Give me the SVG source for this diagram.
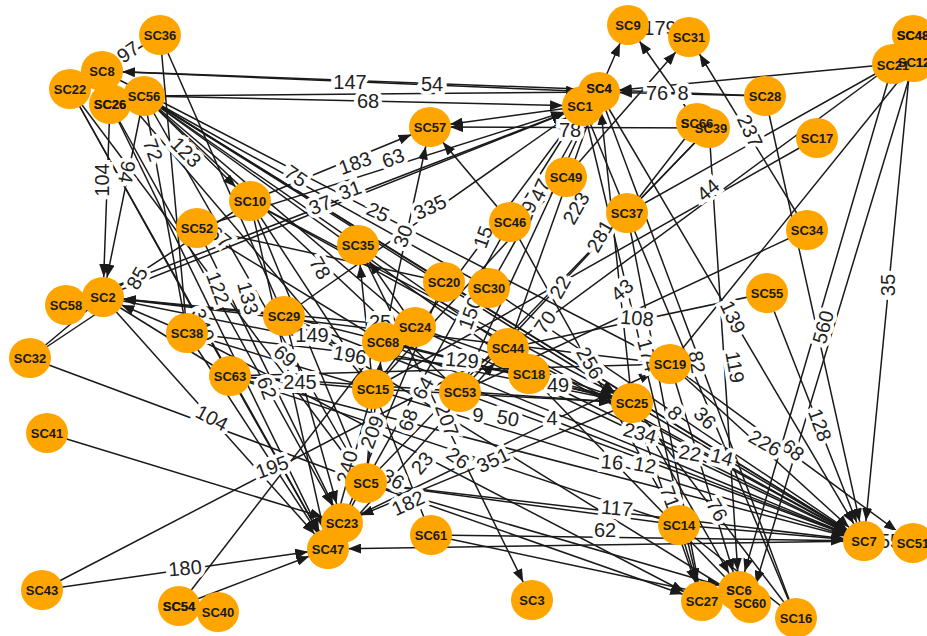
<svg xmlns="http://www.w3.org/2000/svg" xmlns:xlink="http://www.w3.org/1999/xlink" width="927" height="636" viewBox="0 0 927 636">
<style>
.bg{fill:#ffffff}
line{stroke:#1a1a1a;stroke-width:1.5;fill:none}
line.a{marker-end:url(#arr)}
.lb{font-family:"Liberation Sans",Arial,sans-serif;font-size:20px;fill:#222;stroke:#fff;stroke-width:8px;stroke-linejoin:miter;paint-order:stroke;text-anchor:middle;dominant-baseline:central}
.node ellipse{fill:#FFA500;stroke:none}
.node text{font-family:"Liberation Sans",Arial,sans-serif;font-size:13px;font-weight:bold;fill:#1a1a1a;text-anchor:middle;dominant-baseline:central}
</style>
<defs>
<marker id="arr" markerUnits="userSpaceOnUse" markerWidth="13" markerHeight="10" refX="33" refY="5" orient="auto">
<path d="M0,0 L13,5 L0,10 z" fill="#1a1a1a"/>
</marker>
</defs>
<rect class="bg" x="0" y="0" width="927" height="636"/>
<g id="connectors">
<line class="a" x1="102" y1="71" x2="599" y2="92"/>
<line class="a" x1="765" y1="96" x2="102" y2="71"/>
<line class="a" x1="144" y1="96" x2="583" y2="106"/>
<line class="a" x1="144" y1="96" x2="599" y2="92"/>
<line class="a" x1="160" y1="35" x2="102" y2="71"/>
<line class="n" x1="160" y1="35" x2="284" y2="316"/>
<line class="n" x1="160" y1="35" x2="187" y2="333"/>
<line class="a" x1="144" y1="96" x2="250" y2="201"/>
<line class="a" x1="110" y1="104" x2="103" y2="297"/>
<line class="a" x1="144" y1="96" x2="103" y2="297"/>
<line class="n" x1="144" y1="96" x2="187" y2="333"/>
<line class="n" x1="70" y1="89" x2="230" y2="376"/>
<line class="a" x1="70" y1="89" x2="328" y2="549"/>
<line class="a" x1="110" y1="104" x2="328" y2="549"/>
<line class="n" x1="144" y1="96" x2="444" y2="282"/>
<line class="n" x1="144" y1="96" x2="415" y2="327"/>
<line class="n" x1="144" y1="96" x2="489" y2="288"/>
<line class="n" x1="144" y1="96" x2="508" y2="348"/>
<line class="n" x1="144" y1="96" x2="529" y2="374"/>
<line class="a" x1="144" y1="96" x2="632" y2="403"/>
<line class="n" x1="102" y1="71" x2="670" y2="364"/>
<line class="a" x1="144" y1="96" x2="864" y2="541"/>
<line class="a" x1="103" y1="297" x2="583" y2="106"/>
<line class="a" x1="66" y1="305" x2="583" y2="106"/>
<line class="a" x1="197" y1="228" x2="583" y2="106"/>
<line class="a" x1="250" y1="201" x2="430" y2="127"/>
<line class="a" x1="583" y1="106" x2="430" y2="127"/>
<line class="a" x1="709" y1="128" x2="430" y2="127"/>
<line class="a" x1="284" y1="316" x2="583" y2="106"/>
<line class="a" x1="383" y1="342" x2="430" y2="127"/>
<line class="a" x1="373" y1="389" x2="583" y2="106"/>
<line class="a" x1="489" y1="288" x2="599" y2="92"/>
<line class="a" x1="508" y1="348" x2="599" y2="92"/>
<line class="a" x1="632" y1="403" x2="599" y2="92"/>
<line class="a" x1="460" y1="392" x2="599" y2="92"/>
<line class="n" x1="103" y1="297" x2="250" y2="201"/>
<line class="a" x1="187" y1="333" x2="103" y2="297"/>
<line class="a" x1="284" y1="316" x2="103" y2="297"/>
<line class="a" x1="415" y1="327" x2="103" y2="297"/>
<line class="n" x1="103" y1="297" x2="30" y2="358"/>
<line class="n" x1="30" y1="358" x2="114" y2="302"/>
<line class="n" x1="30" y1="358" x2="366" y2="483"/>
<line class="a" x1="103" y1="297" x2="328" y2="549"/>
<line class="n" x1="103" y1="297" x2="230" y2="376"/>
<line class="a" x1="47" y1="433" x2="342" y2="523"/>
<line class="n" x1="42" y1="590" x2="508" y2="348"/>
<line class="n" x1="179" y1="606" x2="383" y2="342"/>
<line class="a" x1="42" y1="590" x2="328" y2="549"/>
<line class="a" x1="179" y1="606" x2="328" y2="549"/>
<line class="a" x1="187" y1="333" x2="328" y2="549"/>
<line class="a" x1="230" y1="376" x2="328" y2="549"/>
<line class="a" x1="284" y1="316" x2="342" y2="523"/>
<line class="a" x1="250" y1="201" x2="328" y2="549"/>
<line class="a" x1="197" y1="228" x2="342" y2="523"/>
<line class="a" x1="366" y1="483" x2="864" y2="541"/>
<line class="n" x1="366" y1="483" x2="679" y2="525"/>
<line class="a" x1="366" y1="483" x2="739" y2="591"/>
<line class="a" x1="366" y1="483" x2="702" y2="601"/>
<line class="a" x1="864" y1="541" x2="328" y2="549"/>
<line class="a" x1="431" y1="535" x2="864" y2="541"/>
<line class="a" x1="431" y1="535" x2="750" y2="603"/>
<line class="a" x1="632" y1="403" x2="342" y2="523"/>
<line class="a" x1="342" y1="523" x2="670" y2="364"/>
<line class="a" x1="358" y1="245" x2="532" y2="600"/>
<line class="a" x1="187" y1="333" x2="702" y2="601"/>
<line class="a" x1="373" y1="389" x2="328" y2="549"/>
<line class="n" x1="366" y1="483" x2="373" y2="389"/>
<line class="n" x1="373" y1="389" x2="431" y2="535"/>
<line class="a" x1="328" y1="549" x2="508" y2="348"/>
<line class="n" x1="328" y1="549" x2="510" y2="222"/>
<line class="n" x1="342" y1="523" x2="444" y2="282"/>
<line class="a" x1="893" y1="64" x2="599" y2="92"/>
<line class="a" x1="765" y1="96" x2="599" y2="92"/>
<line class="a" x1="697" y1="123" x2="628" y2="25"/>
<line class="a" x1="566" y1="177" x2="689" y2="37"/>
<line class="n" x1="628" y1="25" x2="689" y2="37"/>
<line class="a" x1="807" y1="230" x2="689" y2="37"/>
<line class="a" x1="765" y1="96" x2="864" y2="541"/>
<line class="n" x1="893" y1="64" x2="508" y2="348"/>
<line class="n" x1="807" y1="230" x2="460" y2="392"/>
<line class="n" x1="508" y1="348" x2="767" y2="293"/>
<line class="a" x1="599" y1="92" x2="864" y2="541"/>
<line class="a" x1="709" y1="128" x2="739" y2="591"/>
<line class="n" x1="599" y1="92" x2="796" y2="618"/>
<line class="a" x1="583" y1="106" x2="702" y2="601"/>
<line class="a" x1="893" y1="64" x2="739" y2="591"/>
<line class="a" x1="914" y1="62" x2="750" y2="603"/>
<line class="a" x1="913" y1="35" x2="864" y2="541"/>
<line class="a" x1="767" y1="293" x2="864" y2="541"/>
<line class="a" x1="599" y1="92" x2="628" y2="25"/>
<line class="a" x1="415" y1="327" x2="358" y2="245"/>
<line class="a" x1="373" y1="389" x2="358" y2="245"/>
<line class="a" x1="366" y1="483" x2="383" y2="342"/>
<line class="a" x1="230" y1="376" x2="632" y2="403"/>
<line class="a" x1="284" y1="316" x2="632" y2="403"/>
<line class="n" x1="187" y1="333" x2="529" y2="374"/>
<line class="a" x1="383" y1="342" x2="632" y2="403"/>
<line class="a" x1="415" y1="327" x2="632" y2="403"/>
<line class="a" x1="373" y1="389" x2="632" y2="403"/>
<line class="a" x1="250" y1="201" x2="632" y2="403"/>
<line class="a" x1="284" y1="316" x2="864" y2="541"/>
<line class="a" x1="230" y1="376" x2="864" y2="541"/>
<line class="a" x1="373" y1="389" x2="864" y2="541"/>
<line class="a" x1="415" y1="327" x2="864" y2="541"/>
<line class="a" x1="444" y1="282" x2="864" y2="541"/>
<line class="a" x1="489" y1="288" x2="864" y2="541"/>
<line class="a" x1="508" y1="348" x2="864" y2="541"/>
<line class="a" x1="529" y1="374" x2="864" y2="541"/>
<line class="a" x1="460" y1="392" x2="864" y2="541"/>
<line class="a" x1="632" y1="403" x2="864" y2="541"/>
<line class="a" x1="670" y1="364" x2="864" y2="541"/>
<line class="a" x1="250" y1="201" x2="864" y2="541"/>
<line class="a" x1="383" y1="342" x2="864" y2="541"/>
<line class="a" x1="670" y1="364" x2="739" y2="591"/>
<line class="a" x1="632" y1="403" x2="739" y2="591"/>
<line class="a" x1="529" y1="374" x2="750" y2="603"/>
<line class="a" x1="679" y1="525" x2="702" y2="601"/>
<line class="n" x1="679" y1="525" x2="796" y2="618"/>
<line class="n" x1="679" y1="525" x2="864" y2="541"/>
<line class="n" x1="864" y1="541" x2="913" y2="543"/>
<line class="a" x1="510" y1="222" x2="430" y2="127"/>
<line class="n" x1="709" y1="128" x2="627" y2="213"/>
<line class="n" x1="697" y1="123" x2="627" y2="213"/>
<line class="n" x1="893" y1="64" x2="627" y2="213"/>
<line class="n" x1="914" y1="62" x2="670" y2="364"/>
<line class="n" x1="144" y1="96" x2="460" y2="392"/>
<line class="n" x1="102" y1="71" x2="373" y2="389"/>
<line class="n" x1="70" y1="89" x2="366" y2="483"/>
<line class="n" x1="144" y1="96" x2="366" y2="483"/>
<line class="n" x1="250" y1="201" x2="366" y2="483"/>
<line class="n" x1="197" y1="228" x2="383" y2="342"/>
<line class="n" x1="187" y1="333" x2="373" y2="389"/>
<line class="n" x1="230" y1="376" x2="373" y2="389"/>
<line class="n" x1="230" y1="376" x2="670" y2="364"/>
<line class="n" x1="460" y1="392" x2="627" y2="213"/>
<line class="n" x1="366" y1="483" x2="709" y2="128"/>
<line class="n" x1="510" y1="222" x2="679" y2="525"/>
<line class="a" x1="529" y1="374" x2="632" y2="403"/>
<line class="n" x1="373" y1="389" x2="566" y2="177"/>
<line class="n" x1="627" y1="213" x2="796" y2="618"/>
<line class="n" x1="627" y1="213" x2="702" y2="601"/>
<line class="n" x1="632" y1="403" x2="796" y2="618"/>
<line class="a" x1="632" y1="403" x2="702" y2="601"/>
<line class="a" x1="670" y1="364" x2="913" y2="543"/>
<line class="n" x1="250" y1="201" x2="373" y2="389"/>
<line class="n" x1="817" y1="138" x2="373" y2="389"/>
<line class="n" x1="627" y1="213" x2="583" y2="106"/>
<line class="n" x1="510" y1="222" x2="583" y2="106"/>
<line class="a" x1="110" y1="104" x2="342" y2="523"/>
<line class="n" x1="197" y1="228" x2="444" y2="282"/>
<line class="n" x1="103" y1="297" x2="632" y2="403"/>
<line class="n" x1="103" y1="297" x2="670" y2="364"/>
<line class="n" x1="230" y1="376" x2="679" y2="525"/>
<line class="n" x1="284" y1="316" x2="750" y2="603"/>
</g>
<g id="edge-labels">
<text class="lb" transform="translate(128 52) rotate(-35)">97</text>
<text class="lb" transform="translate(350 82)">147</text>
<text class="lb" transform="translate(432 84)">54</text>
<text class="lb" transform="translate(368 101)">68</text>
<text class="lb" transform="translate(102 180) rotate(-90)">104</text>
<text class="lb" transform="translate(127 172) rotate(100)">94</text>
<text class="lb" transform="translate(153 150) rotate(70)">72</text>
<text class="lb" transform="translate(186 152) rotate(45)">123</text>
<text class="lb" transform="translate(296 176) rotate(35)">75</text>
<text class="lb" transform="translate(355 163) rotate(-20)">183</text>
<text class="lb" transform="translate(393 158) rotate(-20)">63</text>
<text class="lb" transform="translate(570 130)">78</text>
<text class="lb" transform="translate(320 205) rotate(-20)">37</text>
<text class="lb" transform="translate(350 190) rotate(-20)">31</text>
<text class="lb" transform="translate(378 212) rotate(25)">25</text>
<text class="lb" transform="translate(430 207) rotate(-25)">335</text>
<text class="lb" transform="translate(403 236) rotate(-70)">30</text>
<text class="lb" transform="translate(483 237) rotate(-70)">15</text>
<text class="lb" transform="translate(540 190) rotate(-65)">47</text>
<text class="lb" transform="translate(527 212) rotate(-70)">19</text>
<text class="lb" transform="translate(576 208) rotate(-60)">223</text>
<text class="lb" transform="translate(600 236) rotate(-60)">281</text>
<text class="lb" transform="translate(560 287) rotate(-60)">22</text>
<text class="lb" transform="translate(545 322) rotate(-55)">70</text>
<text class="lb" transform="translate(470 313) rotate(-70)">150</text>
<text class="lb" transform="translate(462 360) rotate(5)">129</text>
<text class="lb" transform="translate(590 363) rotate(60)">256</text>
<text class="lb" transform="translate(558 385)">49</text>
<text class="lb" transform="translate(622 290) rotate(-40)">43</text>
<text class="lb" transform="translate(637 318) rotate(5)">108</text>
<text class="lb" transform="translate(708 190) rotate(-40)">44</text>
<text class="lb" transform="translate(750 131) rotate(65)">237</text>
<text class="lb" transform="translate(657 93)">76</text>
<text class="lb" transform="translate(683 93)">8</text>
<text class="lb" transform="translate(660 28)">179</text>
<text class="lb" transform="translate(733 317) rotate(65)">139</text>
<text class="lb" transform="translate(735 367) rotate(80)">119</text>
<text class="lb" transform="translate(697 362) rotate(80)">82</text>
<text class="lb" transform="translate(648 355) rotate(75)">174</text>
<text class="lb" transform="translate(823 327) rotate(-75)">560</text>
<text class="lb" transform="translate(888 285) rotate(-90)">35</text>
<text class="lb" transform="translate(820 425) rotate(70)">128</text>
<text class="lb" transform="translate(793 450) rotate(40)">68</text>
<text class="lb" transform="translate(765 443) rotate(30)">226</text>
<text class="lb" transform="translate(722 457) rotate(15)">14</text>
<text class="lb" transform="translate(690 453) rotate(10)">22</text>
<text class="lb" transform="translate(645 465) rotate(10)">12</text>
<text class="lb" transform="translate(612 462) rotate(5)">16</text>
<text class="lb" transform="translate(640 433) rotate(15)">234</text>
<text class="lb" transform="translate(705 418) rotate(45)">36</text>
<text class="lb" transform="translate(675 413) rotate(45)">8</text>
<text class="lb" transform="translate(617 508) rotate(5)">117</text>
<text class="lb" transform="translate(605 530)">62</text>
<text class="lb" transform="translate(717 510) rotate(60)">76</text>
<text class="lb" transform="translate(670 497) rotate(70)">71</text>
<text class="lb" transform="translate(137 278) rotate(-60)">85</text>
<text class="lb" transform="translate(218 288) rotate(70)">122</text>
<text class="lb" transform="translate(248 298) rotate(75)">133</text>
<text class="lb" transform="translate(203 325) rotate(70)">340</text>
<text class="lb" transform="translate(220 237) rotate(40)">67</text>
<text class="lb" transform="translate(320 268) rotate(60)">78</text>
<text class="lb" transform="translate(312 335)">149</text>
<text class="lb" transform="translate(350 355) rotate(10)">196</text>
<text class="lb" transform="translate(300 382)">245</text>
<text class="lb" transform="translate(285 356) rotate(40)">69</text>
<text class="lb" transform="translate(267 388) rotate(70)">62</text>
<text class="lb" transform="translate(380 322)">25</text>
<text class="lb" transform="translate(212 418) rotate(28)">104</text>
<text class="lb" transform="translate(272 467) rotate(-20)">195</text>
<text class="lb" transform="translate(185 568) rotate(-5)">180</text>
<text class="lb" transform="translate(347 467) rotate(-75)">240</text>
<text class="lb" transform="translate(372 432) rotate(-70)">209</text>
<text class="lb" transform="translate(393 479) rotate(30)">36</text>
<text class="lb" transform="translate(422 463) rotate(-50)">23</text>
<text class="lb" transform="translate(408 503) rotate(-25)">182</text>
<text class="lb" transform="translate(458 458) rotate(35)">26</text>
<text class="lb" transform="translate(493 460) rotate(-25)">351</text>
<text class="lb" transform="translate(447 420) rotate(70)">207</text>
<text class="lb" transform="translate(423 388) rotate(-60)">64</text>
<text class="lb" transform="translate(408 420) rotate(-70)">68</text>
<text class="lb" transform="translate(478 415)">9</text>
<text class="lb" transform="translate(508 418) rotate(10)">50</text>
<text class="lb" transform="translate(552 418)">4</text>
<text class="lb" transform="translate(890 541)">55</text>
</g>
<g id="nodes">
<g id="SC36" class="node"><ellipse cx="160" cy="35" rx="21" ry="20"/><text x="160" y="35">SC36</text></g>
<g id="SC8" class="node"><ellipse cx="102" cy="71" rx="21" ry="20"/><text x="102" y="71">SC8</text></g>
<g id="SC22" class="node"><ellipse cx="70" cy="89" rx="21" ry="20"/><text x="70" y="89">SC22</text></g>
<g id="SC26" class="node"><ellipse cx="110" cy="104" rx="21" ry="20"/><text id="t26" x="110" y="104">SC26</text></g>
<g id="SC56" class="node"><ellipse cx="144" cy="96" rx="21" ry="20"/><text x="144" y="96">SC56</text></g>
<g id="SC10" class="node"><ellipse cx="250" cy="201" rx="21" ry="20"/><text x="250" y="201">SC10</text></g>
<g id="SC52" class="node"><ellipse cx="197" cy="228" rx="21" ry="20"/><text x="197" y="228">SC52</text></g>
<g id="SC58" class="node"><ellipse cx="66" cy="305" rx="21" ry="20"/><text x="66" y="305">SC58</text></g>
<g id="SC2" class="node"><ellipse cx="103" cy="297" rx="21" ry="20"/><text x="103" y="297">SC2</text></g>
<g id="SC32" class="node"><ellipse cx="30" cy="358" rx="21" ry="20"/><text x="30" y="358">SC32</text></g>
<g id="SC38" class="node"><ellipse cx="187" cy="333" rx="21" ry="20"/><text x="187" y="333">SC38</text></g>
<g id="SC63" class="node"><ellipse cx="230" cy="376" rx="21" ry="20"/><text x="230" y="376">SC63</text></g>
<g id="SC29" class="node"><ellipse cx="284" cy="316" rx="21" ry="20"/><text x="284" y="316">SC29</text></g>
<g id="SC41" class="node"><ellipse cx="47" cy="433" rx="21" ry="20"/><text x="47" y="433">SC41</text></g>
<g id="SC43" class="node"><ellipse cx="42" cy="590" rx="21" ry="20"/><text x="42" y="590">SC43</text></g>
<g id="SC54" class="node"><ellipse cx="179" cy="606" rx="21" ry="20"/><text id="t54" x="179" y="606">SC54</text></g>
<g id="SC40" class="node"><ellipse cx="218" cy="612" rx="21" ry="20"/><text x="218" y="612">SC40</text></g>
<g id="SC57" class="node"><ellipse cx="430" cy="127" rx="21" ry="20"/><text x="430" y="127">SC57</text></g>
<g id="SC35" class="node"><ellipse cx="358" cy="245" rx="21" ry="20"/><text x="358" y="245">SC35</text></g>
<g id="SC20" class="node"><ellipse cx="444" cy="282" rx="21" ry="20"/><text x="444" y="282">SC20</text></g>
<g id="SC30" class="node"><ellipse cx="489" cy="288" rx="21" ry="20"/><text x="489" y="288">SC30</text></g>
<g id="SC46" class="node"><ellipse cx="510" cy="222" rx="21" ry="20"/><text x="510" y="222">SC46</text></g>
<g id="SC24" class="node"><ellipse cx="415" cy="327" rx="21" ry="20"/><text x="415" y="327">SC24</text></g>
<g id="SC68" class="node"><ellipse cx="383" cy="342" rx="21" ry="20"/><text x="383" y="342">SC68</text></g>
<g id="SC15" class="node"><ellipse cx="373" cy="389" rx="21" ry="20"/><text x="373" y="389">SC15</text></g>
<g id="SC18" class="node"><ellipse cx="529" cy="374" rx="21" ry="20"/><text x="529" y="374">SC18</text></g>
<g id="SC44" class="node"><ellipse cx="508" cy="348" rx="21" ry="20"/><text x="508" y="348">SC44</text></g>
<g id="SC53" class="node"><ellipse cx="460" cy="392" rx="21" ry="20"/><text x="460" y="392">SC53</text></g>
<g id="SC5" class="node"><ellipse cx="366" cy="483" rx="21" ry="20"/><text x="366" y="483">SC5</text></g>
<g id="SC23" class="node"><ellipse cx="342" cy="523" rx="21" ry="20"/><text x="342" y="523">SC23</text></g>
<g id="SC47" class="node"><ellipse cx="328" cy="549" rx="21" ry="20"/><text x="328" y="549">SC47</text></g>
<g id="SC61" class="node"><ellipse cx="431" cy="535" rx="21" ry="20"/><text x="431" y="535">SC61</text></g>
<g id="SC3" class="node"><ellipse cx="532" cy="600" rx="21" ry="20"/><text x="532" y="600">SC3</text></g>
<g id="SC9" class="node"><ellipse cx="628" cy="25" rx="21" ry="20"/><text x="628" y="25">SC9</text></g>
<g id="SC31" class="node"><ellipse cx="689" cy="37" rx="21" ry="20"/><text x="689" y="37">SC31</text></g>
<g id="SC4" class="node"><ellipse cx="599" cy="92" rx="21" ry="20"/><text id="t4" x="599" y="88">SC4</text></g>
<g id="SC1" class="node"><ellipse cx="583" cy="106" rx="21" ry="20"/><text x="580" y="106">SC1</text></g>
<g id="SC49" class="node"><ellipse cx="566" cy="177" rx="21" ry="20"/><text x="566" y="177">SC49</text></g>
<g id="SC37" class="node"><ellipse cx="627" cy="213" rx="21" ry="20"/><text x="627" y="213">SC37</text></g>
<g id="SC66" class="node"><ellipse cx="697" cy="123" rx="21" ry="20"/><text id="t66" x="697" y="123">SC66</text></g>
<g id="SC39" class="node"><ellipse cx="709" cy="128" rx="21" ry="20"/><text x="711" y="128">SC39</text></g>
<g id="SC28" class="node"><ellipse cx="765" cy="96" rx="21" ry="20"/><text x="765" y="96">SC28</text></g>
<g id="SC17" class="node"><ellipse cx="817" cy="138" rx="21" ry="20"/><text x="817" y="138">SC17</text></g>
<g id="SC34" class="node"><ellipse cx="807" cy="230" rx="21" ry="20"/><text x="807" y="230">SC34</text></g>
<g id="SC55" class="node"><ellipse cx="767" cy="293" rx="21" ry="20"/><text x="767" y="293">SC55</text></g>
<g id="SC19" class="node"><ellipse cx="670" cy="364" rx="21" ry="20"/><text x="670" y="364">SC19</text></g>
<g id="SC25" class="node"><ellipse cx="632" cy="403" rx="21" ry="20"/><text x="632" y="403">SC25</text></g>
<g id="SC48" class="node"><ellipse cx="913" cy="35" rx="21" ry="20"/><text id="t48" x="913" y="35">SC48</text></g>
<g id="SC12" class="node"><ellipse cx="914" cy="62" rx="21" ry="20"/><text id="t12" x="914" y="62">SC12</text></g>
<g id="SC21" class="node"><ellipse cx="893" cy="64" rx="21" ry="20"/><text x="893" y="65">SC21</text></g>
<g id="SC14" class="node"><ellipse cx="679" cy="525" rx="21" ry="20"/><text x="679" y="525">SC14</text></g>
<g id="SC27" class="node"><ellipse cx="702" cy="601" rx="21" ry="20"/><text x="702" y="601">SC27</text></g>
<g id="SC6" class="node"><ellipse cx="739" cy="591" rx="21" ry="20"/><text id="t6" x="739" y="590">SC6</text></g>
<g id="SC60" class="node"><ellipse cx="750" cy="603" rx="21" ry="20"/><text x="750" y="603">SC60</text></g>
<g id="SC16" class="node"><ellipse cx="796" cy="618" rx="21" ry="20"/><text x="796" y="618">SC16</text></g>
<g id="SC7" class="node"><ellipse cx="864" cy="541" rx="21" ry="20"/><text x="864" y="541">SC7</text></g>
<g id="SC51" class="node"><ellipse cx="913" cy="543" rx="21" ry="20"/><text x="913" y="543">SC51</text></g>
</g>
<g id="label-overlay" class="node">
<use xlink:href="#t26"/>
<use xlink:href="#t4"/>
<use xlink:href="#t66"/>
<use xlink:href="#t48"/>
<use xlink:href="#t12"/>
<use xlink:href="#t6"/>
<use xlink:href="#t54"/>
</g>
</svg>
